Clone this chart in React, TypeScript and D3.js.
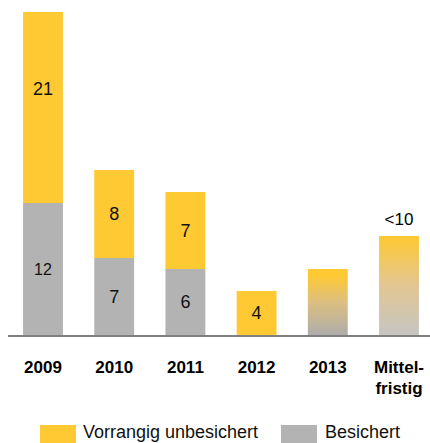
import * as d3 from 'd3';
import React from 'react';

const categories = ['2009', '2010', '2011', '2012', '2013', 'Mittel-\nfristig'];
const secured = [12, 7, 6, 0, null, null];
const unsecured = [21, 8, 7, 4, null, null];
// 2013 and medium term are not split, drawn with a fade
const unsplit = [null, null, null, null, 6, 9];
const topLabels = ['', '', '', '', '', '<10'];

const YELLOW = '#ffc933';
const GRAY = '#b3b3b3';
const FONT = '"Liberation Sans", Arial, sans-serif';

const W = 430;
const H = 443;
const baseY = 335;

export default function App() {
  const x = d3
    .scaleBand()
    .domain(categories)
    .range([7.4, 434.6])
    .paddingInner(0.44)
    .paddingOuter(0.22);

  const y = d3.scaleLinear().domain([0, 29.36]).range([baseY, 12]).clamp(true);

  const bw = x.bandwidth();

  return (
    <svg
      width={W}
      height={H}
      style={{ position: 'absolute', left: 0, top: 0 }}
      fontFamily={FONT}
    >
      <defs>
        <linearGradient id="fade2013" x1="0" y1="0" x2="0" y2="1">
          <stop offset="0.1" stopColor={YELLOW} />
          <stop offset="0.5" stopColor="#dcbf80" />
          <stop offset="1" stopColor="#aeadab" />
        </linearGradient>
        <linearGradient id="fadeMid" x1="0" y1="0" x2="0" y2="1">
          <stop offset="0" stopColor={YELLOW} />
          <stop offset="0.5" stopColor="#e2c692" />
          <stop offset="1" stopColor="#c6c5c3" />
        </linearGradient>
      </defs>

      {categories.map((c, i) => {
        const x0 = x(c)!;
        const cx = x0 + bw / 2;
        const s = secured[i];
        const u = unsecured[i];
        const t = unsplit[i];
        const items: React.ReactNode[] = [];
        if (t != null) {
          items.push(
            <rect
              key="t"
              x={x0}
              y={y(t)}
              width={bw}
              height={baseY - y(t)}
              fill={i === 4 ? 'url(#fade2013)' : 'url(#fadeMid)'}
            />
          );
          if (topLabels[i]) {
            items.push(
              <text key="tl" x={cx} y={y(t) - 11} textAnchor="middle" fontSize={17} fill="#000">
                {topLabels[i]}
              </text>
            );
          }
        } else {
          const s0 = s ?? 0;
          const u0 = u ?? 0;
          const sTop = y(s0);
          const uTop = y(s0 + u0);
          if (s0 > 0) {
            items.push(
              <rect key="s" x={x0} y={sTop} width={bw} height={baseY - sTop} fill={GRAY} />
            );
            items.push(
              <text
                key="sl"
                x={cx}
                y={(sTop + baseY) / 2}
                dy="0.35em"
                textAnchor="middle"
                fontSize={s0 >= 10 ? 16 : 18}
                fill="#111"
              >
                {s0}
              </text>
            );
          }
          if (u0 > 0) {
            const clipped = y.invert(uTop) < s0 + u0 - 0.01;
            const ly = clipped ? uTop + 0.4 * (sTop - uTop) : (uTop + sTop) / 2;
            items.push(
              <rect key="u" x={x0} y={uTop} width={bw} height={sTop - uTop} fill={YELLOW} />
            );
            items.push(
              <text key="ul" x={cx} y={ly} dy="0.35em" textAnchor="middle" fontSize={18} fill="#111">
                {u0}
              </text>
            );
          }
        }
        const lines = c.split('\n');
        items.push(
          <text
            key="xl"
            x={cx}
            y={373}
            textAnchor="middle"
            fontSize={17}
            fontWeight="bold"
            fill="#000"
          >
            {lines.map((ln, k) => (
              <tspan key={k} x={cx} dy={k === 0 ? 0 : 21}>
                {ln}
              </tspan>
            ))}
          </text>
        );
        return <g key={c}>{items}</g>;
      })}

      <line x1={8} x2={W} y1={baseY + 1} y2={baseY + 1} stroke="#7f7f7f" strokeWidth={2} />

      <g>
        <rect x={40} y={425} width={36} height={20} fill={YELLOW} />
        <text x={83} y={438} fontSize={18} fill="#111">
          Vorrangig unbesichert
        </text>
        <rect x={281} y={425} width={36} height={20} fill={GRAY} />
        <text x={325} y={438} fontSize={18} fill="#111">
          Besichert
        </text>
      </g>
    </svg>
  );
}
